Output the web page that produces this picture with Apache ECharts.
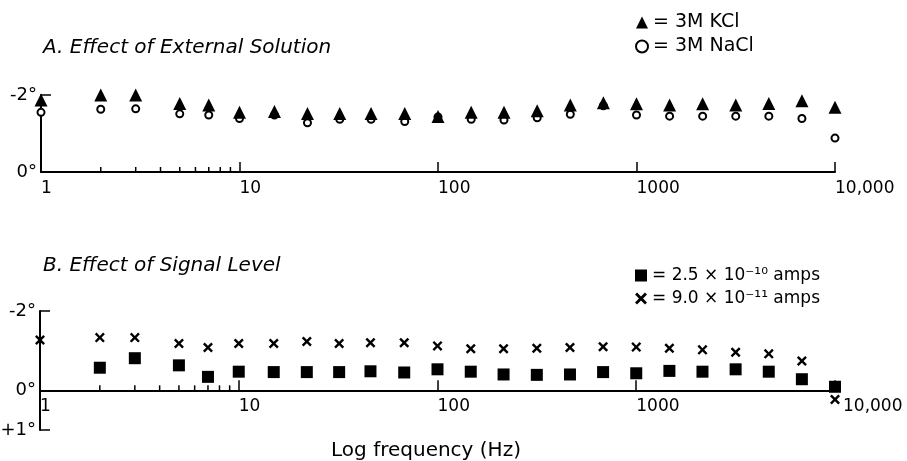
<!DOCTYPE html>
<html lang="en">
<head>
    <meta charset="UTF-8">
    <title>phase vs log frequency</title>
    <script src="https://cdn.jsdelivr.net/npm/echarts@6/dist/echarts.min.js"></script>
    <style>
        html, body { margin: 0; padding: 0; background: #fff; }
        .box { width: 907px; height: 461px; }
    </style>
</head>
<body>
    <div class="box"></div>
    <script>
        // frequencies (Hz) of the measurements, shared by both panels
        var freqs = [1, 2, 3, 5, 7, 10, 15, 22, 32, 46, 68, 100, 147, 215, 316, 464, 681, 1000, 1468, 2154, 3162, 4642, 6813, 10000]

        // panel A, phase in degrees
        var kcl  = [-1.87, -2.0, -2.0, -1.78, -1.74, -1.55, -1.57, -1.52, -1.52, -1.52, -1.52, -1.44, -1.55, -1.55, -1.59, -1.74, -1.80, -1.77, -1.74, -1.77, -1.74, -1.78, -1.85, -1.68]
        var nacl = [-1.55, -1.63, -1.64, -1.51, -1.48, -1.39, -1.48, -1.28, -1.37, -1.37, -1.31, -1.43, -1.37, -1.35, -1.41, -1.50, -1.72, -1.48, -1.45, -1.45, -1.45, -1.45, -1.39, -0.88]

        // panel B, phase in degrees (no square at 1 Hz)
        var amps25 = [null, -0.57, -0.81, -0.63, -0.34, -0.47, -0.46, -0.46, -0.46, -0.48, -0.45, -0.53, -0.47, -0.40, -0.39, -0.40, -0.46, -0.43, -0.49, -0.47, -0.53, -0.47, -0.28, -0.09]
        var amps09 = [-1.27, -1.33, -1.33, -1.18, -1.08, -1.18, -1.18, -1.23, -1.18, -1.20, -1.20, -1.12, -1.05, -1.05, -1.06, -1.08, -1.10, -1.09, -1.06, -1.02, -0.96, -0.92, -0.74, 0.23]

        // axis ticks
        var xTicks = [1, 10, 100, 1000, 10000]
        var xTickLabels = ['1', '10', '100', '1000', '10,000']
        var minorTicks = [2, 3, 4, 5, 6, 7, 8, 9]
        var yTicksA = [-2, 0]
        var yTicksB = [-2, 0, 1]

        var font = 'DejaVu Sans'
        var crossPath = 'path://M0,1.7L1.7,0L5,3.3L8.3,0L10,1.7L6.7,5L10,8.3L8.3,10L5,6.7L1.7,10L0,8.3L3.3,5Z'

        // panel B: height 119 for 3 degrees, zero line sits 1/3 up from the bottom
        var gridBHeight = 119
        var zeroOffsetB = -gridBHeight / 3

        function pairs(ys) {
            var out = []
            for (var i = 0; i < freqs.length; i++) {
                if (ys[i] !== null) out.push([freqs[i], ys[i]])
            }
            return out
        }

        function degLabel(v) {
            if (v > 0) return '+' + v + '°'
            return v + '°'
        }

        function xAxisOf(idx, offset, shiftLast) {
            return {
                type: 'log', logBase: 10, min: 1, max: 10000, gridIndex: idx,
                position: 'bottom', offset: offset,
                axisLine: { onZero: false, lineStyle: { color: '#000', width: 2 } },
                axisTick: { inside: true, length: 10, customValues: xTicks, lineStyle: { color: '#000', width: 1.5 } },
                axisLabel: {
                    customValues: xTicks, align: 'left', margin: 8,
                    color: '#000', fontFamily: font, fontSize: 17,
                    rich: { far: { fontFamily: font, fontSize: 17, color: '#000', padding: [0, 0, 0, 8] } },
                    formatter: function (v) {
                        var s = xTickLabels[xTicks.indexOf(v)]
                        if (shiftLast && v === 10000) return '{far|' + s + '}'
                        return s
                    }
                },
                splitLine: { show: false }
            }
        }

        function yAxisOf(idx, max, ticks, tickMarks) {
            return {
                type: 'value', inverse: true, min: -2, max: max, gridIndex: idx,
                axisLine: { show: true, lineStyle: { color: '#000', width: 2 } },
                axisTick: { show: true, inside: true, length: 10, customValues: tickMarks, lineStyle: { color: '#000', width: 1.5 } },
                axisLabel: {
                    customValues: ticks, margin: 4, color: '#000',
                    fontFamily: font, fontSize: 18, formatter: degLabel
                },
                splitLine: { show: false }
            }
        }

        function minorSeries(idx) {
            return {
                type: 'custom', xAxisIndex: idx, yAxisIndex: idx, silent: true,
                data: minorTicks.map(function (v) { return [v, 0] }),
                renderItem: function (params, api) {
                    var p = api.coord([api.value(0), 0])
                    return {
                        type: 'line',
                        shape: { x1: p[0], y1: p[1], x2: p[0], y2: p[1] - 5 },
                        style: { stroke: '#000', lineWidth: 1.5 }
                    }
                }
            }
        }

        var chart = echarts.init(document.querySelector('.box'), null, { renderer: 'canvas' })

        var option = {
            backgroundColor: '#fff',
            animation: false,
            title: [
                { text: 'A. Effect of External Solution', left: 38, top: 33,
                  textStyle: { fontFamily: font, fontSize: 20, fontStyle: 'italic', fontWeight: 'normal', color: '#000' } },
                { text: 'B. Effect of Signal Level', left: 38, top: 251,
                  textStyle: { fontFamily: font, fontSize: 20, fontStyle: 'italic', fontWeight: 'normal', color: '#000' } }
            ],
            legend: [
                { orient: 'vertical', left: 630, top: 8, itemWidth: 12, itemHeight: 12, itemGap: 5,
                  data: [{ name: '3M KCl', icon: 'triangle' }, { name: '3M NaCl', icon: 'emptyCircle' }],
                  formatter: '= {name}',
                  textStyle: { fontFamily: font, fontSize: 19, color: '#000' } },
                { orient: 'vertical', left: 630, top: 262, itemWidth: 12, itemHeight: 12, itemGap: 6,
                  data: [{ name: '2.5 × 10⁻¹⁰ amps', icon: 'rect' }, { name: '9.0 × 10⁻¹¹ amps', icon: crossPath }],
                  formatter: '= {name}',
                  textStyle: { fontFamily: font, fontSize: 17, color: '#000' } }
            ],
            grid: [
                { left: 41, right: 72, top: 95, height: 77, outerBoundsMode: 'none' },
                { left: 40, right: 72, top: 311, height: gridBHeight, outerBoundsMode: 'none' }
            ],
            xAxis: [
                xAxisOf(0, 0, false),
                Object.assign(xAxisOf(1, zeroOffsetB, true), {
                    name: 'Log frequency (Hz)', nameLocation: 'middle', nameGap: 50,
                    nameTextStyle: { fontFamily: font, fontSize: 20, color: '#000', padding: [0, 23, 0, 0] }
                })
            ],
            yAxis: [
                yAxisOf(0, 0, yTicksA, [-2]),
                yAxisOf(1, 1, yTicksB, [-2, 1])
            ],
            series: [
                minorSeries(0),
                minorSeries(1),
                { name: '3M NaCl', type: 'scatter', xAxisIndex: 0, yAxisIndex: 0,
                  symbol: 'emptyCircle', symbolSize: 7,
                  itemStyle: { color: '#000', borderColor: '#000', borderWidth: 2, opacity: 1 },
                  data: pairs(nacl) },
                { name: '3M KCl', type: 'scatter', xAxisIndex: 0, yAxisIndex: 0,
                  symbol: 'triangle', symbolSize: 13,
                  itemStyle: { color: '#000', opacity: 1 },
                  data: pairs(kcl) },
                { name: '2.5 × 10⁻¹⁰ amps', type: 'scatter', xAxisIndex: 1, yAxisIndex: 1,
                  symbol: 'rect', symbolSize: 12,
                  itemStyle: { color: '#000', opacity: 1 },
                  data: pairs(amps25) },
                { name: '9.0 × 10⁻¹¹ amps', type: 'scatter', xAxisIndex: 1, yAxisIndex: 1,
                  symbol: crossPath, symbolSize: 10, symbolKeepAspect: true,
                  itemStyle: { color: '#000', opacity: 1 },
                  data: pairs(amps09) }
            ]
        }

        chart.setOption(option)
    </script>
</body>
</html>
